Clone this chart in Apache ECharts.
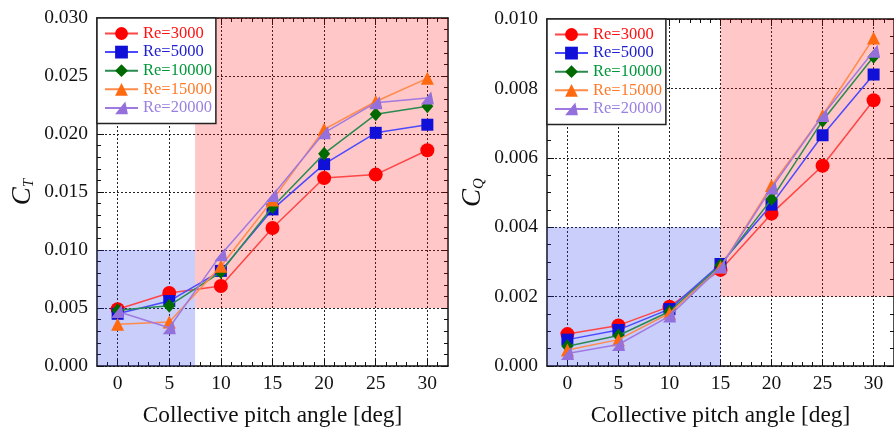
<!DOCTYPE html>
<html>
<head>
<meta charset="utf-8">
<script src="https://cdn.jsdelivr.net/npm/echarts@6/dist/echarts.min.js"></script>
<style>html,body{margin:0;padding:0;background:#fff}#c{width:894px;height:432px}</style>
</head>
<body>
<div id="c"></div>
<script>
// ---- data ----
const pitch = [0, 5, 10, 15, 20, 25, 30];
const seriesNames = ['Re=3000', 'Re=5000', 'Re=10000', 'Re=15000', 'Re=20000'];
const ct3000  = [0.0049, 0.0063, 0.0069, 0.0119, 0.0162, 0.0165, 0.0186];
const ct5000  = [0.0045, 0.0056, 0.0082, 0.0135, 0.0174, 0.0201, 0.0208];
const ct10000 = [0.0048, 0.0052, 0.0081, 0.0137, 0.0183, 0.0217, 0.0224];
const ct15000 = [0.0036, 0.0038, 0.0086, 0.0143, 0.0204, 0.0228, 0.0248];
const ct20000 = [0.0047, 0.0033, 0.0096, 0.0147, 0.0201, 0.0227, 0.0231];
const cq3000  = [0.00092, 0.00117, 0.00171, 0.00277, 0.00439, 0.00577, 0.00766];
const cq5000  = [0.00076, 0.00104, 0.00164, 0.00294, 0.00465, 0.00665, 0.00840];
const cq10000 = [0.00057, 0.00088, 0.00157, 0.00290, 0.00481, 0.00707, 0.00891];
const cq15000 = [0.00046, 0.00076, 0.00152, 0.00285, 0.00520, 0.00722, 0.00945];
const cq20000 = [0.00036, 0.00062, 0.00144, 0.00285, 0.00513, 0.00722, 0.00907];
// shaded regions: [xFrom, xTo, yFrom, yTo]
const ctBlueZone = [-2, 7.5, 0, 0.010];
const ctRedZone  = [7.5, 32, 0.005, 0.030];
const cqBlueZone = [-2, 15, 0, 0.004];
const cqRedZone  = [15, 32, 0.002, 0.010];
// tick labels
const xTickLabels = [0, 5, 10, 15, 20, 25, 30];
const xMinorTicks = [];
for (let v = -1; v <= 31; v++) if (v % 5 !== 0) xMinorTicks.push(v);

// ---- styling ----
const FONT = '"Liberation Serif", "Times New Roman", serif';
const markerColors = ['#ff0000', '#1010d8', '#006a00', '#ff6a10', '#9370db'];
const lineColors   = ['#ff4545', '#4a4aff', '#2a8a50', '#ff8a4a', '#a07ae0'];
const legendColors = ['#ff1010', '#2020d0', '#00963a', '#ff7a2a', '#9a80e0'];
const symbols = ['circle', 'rect', 'diamond', 'triangle', 'path://M8,0 L10,10 L0,10 Z'];
const symbolSizes = [14, 12, [12, 14], 13, 13];

const XMIN = -2, XMAX = 32;

function xAxes(gridIndex) {
  const base = { type: 'value', gridIndex, min: XMIN, max: XMAX };
  return [
    Object.assign({}, base, {
      position: 'bottom',
      axisLine: { show: true, onZero: false, lineStyle: { color: '#111', width: 1.5 } },
      axisTick: { show: true, inside: true, length: 7, customValues: xTickLabels, lineStyle: { color: '#111' } },
      axisLabel: { customValues: xTickLabels, fontFamily: FONT, fontSize: 19.5, color: '#111', margin: 8 },
      splitLine: { show: true, lineStyle: { type: [2, 2], color: '#222', width: 1 } },
      name: 'Collective pitch angle [deg]', nameLocation: 'middle', nameGap: 38,
      nameTextStyle: { fontFamily: FONT, fontSize: 23.3, color: '#111' }
    }),
    Object.assign({}, base, {
      position: 'bottom',
      axisLine: { show: false, onZero: false },
      axisTick: { show: true, inside: true, length: 4, customValues: xMinorTicks, lineStyle: { color: '#111' } },
      axisLabel: { show: false }, splitLine: { show: false }
    }),
    Object.assign({}, base, {
      position: 'top',
      axisLine: { show: true, onZero: false, lineStyle: { color: '#111', width: 1.5 } },
      axisTick: { show: true, inside: true, length: 7, customValues: xTickLabels, lineStyle: { color: '#111' } },
      axisLabel: { show: false }, splitLine: { show: false }
    }),
    Object.assign({}, base, {
      position: 'top',
      axisLine: { show: false, onZero: false },
      axisTick: { show: true, inside: true, length: 4, customValues: xMinorTicks, lineStyle: { color: '#111' } },
      axisLabel: { show: false }, splitLine: { show: false }
    })
  ];
}

function yAxes(gridIndex, max, interval, minorSplit, sub, nameGap) {
  const base = { type: 'value', gridIndex, min: 0, max, interval };
  return [
    Object.assign({}, base, {
      position: 'left',
      axisLine: { show: true, onZero: false, lineStyle: { color: '#111', width: 1.5 } },
      axisTick: { show: true, inside: true, length: 7, lineStyle: { color: '#111' } },
      minorTick: { show: true, splitNumber: minorSplit, length: 4, lineStyle: { color: '#111' } },
      axisLabel: { fontFamily: FONT, fontSize: 19.5, color: '#111', margin: 9, formatter: v => v.toFixed(3) },
      splitLine: { show: true, lineStyle: { type: [2, 2], color: '#222', width: 1 } },
      name: '{c|C}{s|' + sub + '}', nameLocation: 'middle', nameRotate: 90, nameGap,
      nameTextStyle: {
        rich: {
          c: { fontFamily: FONT, fontStyle: 'italic', fontSize: 27, color: '#111', lineHeight: 28 },
          s: { fontFamily: FONT, fontStyle: 'italic', fontSize: 15, color: '#111', verticalAlign: 'bottom', lineHeight: 15, padding: [12, 0, 0, 0] }
        }
      }
    }),
    Object.assign({}, base, {
      position: 'right',
      axisLine: { show: true, onZero: false, lineStyle: { color: '#111', width: 1.5 } },
      axisTick: { show: true, inside: true, length: 7, lineStyle: { color: '#111' } },
      minorTick: { show: true, splitNumber: minorSplit, length: 4, lineStyle: { color: '#111' } },
      axisLabel: { show: false }, splitLine: { show: false }
    })
  ];
}

function zoneSeries(xIdx, yIdx, blue, red) {
  return {
    type: 'line', xAxisIndex: xIdx, yAxisIndex: yIdx, data: [], silent: true, z: 1,
    markArea: {
      silent: true,
      data: [
        [{ xAxis: blue[0], yAxis: blue[2], itemStyle: { color: 'rgba(30,50,240,0.24)' } }, { xAxis: blue[1], yAxis: blue[3] }],
        [{ xAxis: red[0], yAxis: red[2], itemStyle: { color: 'rgba(255,0,0,0.22)' } }, { xAxis: red[1], yAxis: red[3] }]
      ]
    }
  };
}

function dataSeries(xIdx, yIdx, arrays) {
  return arrays.map((arr, i) => ({
    name: seriesNames[i], type: 'line', xAxisIndex: xIdx, yAxisIndex: yIdx, z: 3 + i,
    data: pitch.map((p, k) => [p, arr[k]]),
    symbol: symbols[i], symbolSize: symbolSizes[i],
    itemStyle: { color: markerColors[i] },
    lineStyle: { color: lineColors[i], width: 1.5 },
    animation: false
  }));
}

function legend(left, top) {
  return {
    left, top, orient: 'vertical', backgroundColor: '#fff', borderColor: '#222', borderWidth: 1.5,
    padding: [7, 4, 7, 7], itemWidth: 33, itemHeight: 16, itemGap: 1.6, z: 20,
    textStyle: { fontFamily: FONT, fontSize: 16.5 },
    data: seriesNames.map((n, i) => ({ name: n, textStyle: { color: legendColors[i], fontFamily: FONT, fontSize: 16.5 } }))
  };
}

const option = {
  animation: false,
  backgroundColor: '#fff',
  grid: [
    { left: 97, top: 18, right: 446, bottom: 62 },
    { left: 547, top: 19, right: -4, bottom: 62 }
  ],
  xAxis: xAxes(0).concat(xAxes(1)),
  yAxis: yAxes(0, 0.030, 0.005, 5, 'T', 60).concat(yAxes(1, 0.010, 0.002, 4, 'Q', 60)),
  legend: [legend(97, 18), legend(547, 19)],
  series: [zoneSeries(0, 0, ctBlueZone, ctRedZone)]
    .concat(dataSeries(0, 0, [ct3000, ct5000, ct10000, ct15000, ct20000]))
    .concat([zoneSeries(4, 2, cqBlueZone, cqRedZone)])
    .concat(dataSeries(4, 2, [cq3000, cq5000, cq10000, cq15000, cq20000]))
};

const chart = echarts.init(document.getElementById('c'), null, { renderer: 'canvas' });
chart.setOption(option);
</script>
</body>
</html>
